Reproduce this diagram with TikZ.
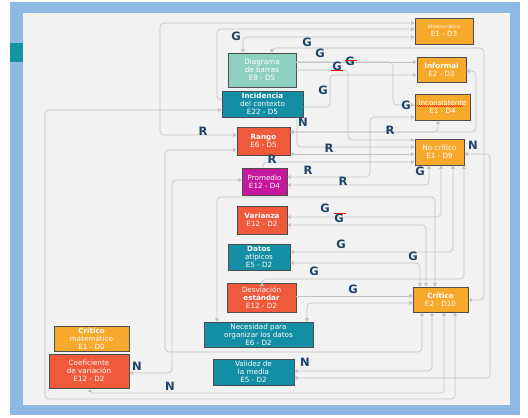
\documentclass[tikz,border=0pt]{standalone}
\usepackage{fontspec}
\setmainfont{DejaVu Sans}
\usepackage{tikz}
\usetikzlibrary{arrows.meta,decorations.pathmorphing}
\definecolor{frameblue}{HTML}{8DB9E3}
\definecolor{panelgray}{HTML}{F2F2F2}
\definecolor{tabteal}{HTML}{1593A6}
\definecolor{lgray}{HTML}{C3C3C3}
\definecolor{boxline}{HTML}{4D4D4D}
\definecolor{orangefill}{HTML}{F7A92B}
\definecolor{redfill}{HTML}{EF5A3B}
\definecolor{tealfill}{HTML}{148EA4}
\definecolor{mintfill}{HTML}{8FD1C1}
\definecolor{magfill}{HTML}{C5189D}
\definecolor{labelnavy}{HTML}{1F4368}

\begin{document}
\begin{tikzpicture}[x=1pt,y=-1pt,>={Triangle[length=3.5pt,width=4pt]},
  box/.style={draw=boxline,line width=0.8pt,text=white,align=center,inner sep=1pt,
    font=\fontsize{7.2}{7.9}\selectfont},
  obox/.style={box,fill=orangefill},
  rbox/.style={box,fill=redfill},
  tbox/.style={box,fill=tealfill},
  mbox/.style={box,fill=mintfill},
  pbox/.style={box,fill=magfill},
  conn/.style={draw=lgray,line width=0.6pt,rounded corners=4pt},
  rel/.style={text=labelnavy,font=\fontsize{11.5}{11.5}\bfseries\selectfont,inner sep=0pt},
  typo/.style={draw=red,line width=0.5pt}]
  \useasboundingbox (0,0) rectangle (528,418);
  % frame
  \fill[frameblue] (10,2) rectangle (520,415);
  \fill[panelgray] (23,13) rectangle (510,405);
  \fill[tabteal] (10,43) rectangle (23,62);

  % right column
  \node[obox,minimum width=58pt,minimum height=26pt] (idio) at (444,31)
    {{\fontsize{4.8}{6.5}\selectfont Idiosincrático}\\E1 - D3};
  \node[obox,minimum width=49pt,minimum height=25pt] (informal) at (441.5,69.5)
    {\textbf{Informal}\\E2 - D3};
  \node[obox,minimum width=55pt,minimum height=26pt] (incons) at (442.5,107)
    {Inconsistente\\E1 - D4};
  \node[obox,minimum width=49pt,minimum height=26pt] (nocrit) at (439.5,152)
    {No crítico\\E1 - D9};
  \node[obox,minimum width=55pt,minimum height=25pt] (crit) at (440.5,299.5)
    {\textbf{Crítico}\\E2 - D10};
  % middle column
  \node[mbox,minimum width=68pt,minimum height=34pt] (diag) at (262,70)
    {Diagrama\\de barras\\E8 - D5};
  \node[tbox,minimum width=81pt,minimum height=26pt] (incid) at (262.5,104)
    {\textbf{Incidencia}\\del contexto\\E22 - D5};
  \node[rbox,minimum width=53pt,minimum height=28pt] (rango) at (263.5,141)
    {\textbf{Rango}\\E6 - D5};
  \node[pbox,minimum width=45pt,minimum height=27pt] (promedio) at (264.5,181.5)
    {Promedio\\E12 - D4};
  \node[rbox,minimum width=50pt,minimum height=28pt] (varianza) at (262,220)
    {\textbf{Varianza}\\E12 - D2};
  \node[tbox,minimum width=62pt,minimum height=26pt] (datos) at (259,257)
    {\textbf{Datos}\\atípicos\\E5 - D2};
  \node[rbox,minimum width=69pt,minimum height=29pt] (desv) at (261.5,297.5)
    {Desviación\\\textbf{estándar}\\E12 - D2};
  \node[tbox,minimum width=109pt,minimum height=25pt] (neces) at (258.5,334.5)
    {Necesidad para\\organizar los datos\\E6 - D2};
  \node[tbox,minimum width=81pt,minimum height=26pt] (validez) at (253.5,372)
    {Validez de\\la media\\E5 - D2};
  % left column
  \node[obox,minimum width=75pt,minimum height=25pt] (critmat) at (91.5,338.5)
    {\textbf{Crítico}\\matemático\\E1 - D0};
  \node[rbox,minimum width=80pt,minimum height=34pt] (coef) at (89,371)
    {Coeficiente\\de variación\\E12 - D2};

  % connectors, top part
  \draw[conn,<->] (rango.west |- 0,135) -- (160,135) -- (160,23) -- (idio.west |- 0,23);
  \draw[conn,->] (incid.west |- 0,100) -- (217,100) -- (217,29) -- (idio.west |- 0,29);
  \draw[conn,<->] (243,0 |- diag.north) -- (243,37) -- (idio.west |- 0,37);
  \draw[conn,<->] (272,0 |- diag.north) -- (272,48) -- (484,48) -- (484,300) -- (crit.east |- 0,300);
  \draw[conn,->] (diag.east |- 0,62) -- (informal.west |- 0,62);
  \draw[conn,->] (diag.east |- 0,62) -- (393,62) -- (393,105) -- (incons.west |- 0,105);
  \draw[conn,->] (diag.east |- 0,70) -- (348,70) -- (348,140) -- (nocrit.west |- 0,140);
  \draw[conn,->] (incid.east |- 0,107) -- (330,107) -- (330,75) -- (informal.west |- 0,75);
  \draw[conn,<->] (rango.east |- 0,132) -- (476,132) -- (476,71) -- (informal.east |- 0,71);
  \draw[conn,->] (rango.east |- 0,132) -- (438,132) -- (438,0 |- incons.south);
  \draw[conn,->] (297,0 |- incid.south) -- (297,147) -- (nocrit.west |- 0,147);
  \draw[conn,<->] (rango.east |- 0,154) -- (nocrit.west |- 0,154);
  \draw[conn,->] (263,0 |- promedio.north) -- (263,162) -- (nocrit.west |- 0,162);
  \draw[conn,<->] (promedio.east |- 0,177) -- (370,177) -- (370,117) -- (incons.west |- 0,117);
  % connectors, between the two critical boxes
  \draw[conn,<->] (promedio.east |- 0,185) -- (429,185) -- (429,0 |- nocrit.south);
  \draw[conn,<->] (217,0 |- neces.north) -- (217,197) -- (435,197) -- (435,0 |- crit.north);
  \draw[conn,<->] (varianza.east |- 0,217) -- (441,217) -- (441,0 |- nocrit.south);
  \draw[conn,<->] (varianza.east |- 0,225) -- (426,225) -- (426,0 |- crit.north);
  \draw[conn,<->] (datos.east |- 0,252) -- (453,252) -- (453,0 |- nocrit.south);
  \draw[conn,<->] (datos.east |- 0,263) -- (420,263) -- (420,0 |- crit.north);
  \draw[conn,<->] (262,0 |- desv.north) -- (262,279) -- (464,279) -- (464,0 |- nocrit.south);
  \draw[conn,->] (desv.east |- 0,296) -- (crit.west |- 0,296);
  \draw[conn,<->] (307,0 |- neces.north) -- (307,303) -- (crit.west |- 0,303);
  % connectors, bottom part
  \draw[conn,<->] (422,0 |- crit.south) -- (422,352) -- (165,352) -- (165,150) -- (rango.west |- 0,150);
  \draw[conn,<->] (432,0 |- crit.south) -- (432,371) -- (validez.east |- 0,371);
  \draw[conn,<->,rounded corners=2pt] (444,0 |- crit.south) -- (444,393) -- (90,393) -- (90,0 |- coef.south);
  \draw[conn,<->] (455,0 |- crit.south) -- (455,399) -- (45,399) -- (45,110) -- (incid.west |- 0,110);
  \draw[conn,<->] (nocrit.east |- 0,154) -- (490,154) -- (490,378) -- (validez.east |- 0,378);
  \draw[conn,<->] (promedio.west |- 0,180) -- (172,180) -- (172,373) -- (coef.east |- 0,373);

  % relation letters
  \node[rel] (g1) at (236,36) {G};
  \node[rel] (g2) at (307,42) {G};
  \node[rel] (g3) at (320,53) {G};
  \node[rel] (g4) at (337,66) {G};
  \node[rel] (g5) at (350,61) {G};
  \node[rel] (g6) at (323,90) {G};
  \node[rel] (g7) at (406,105) {G};
  \node[rel] (n1) at (303,122) {N};
  \node[rel] (r1) at (203,131) {R};
  \node[rel] (r2) at (390,130) {R};
  \node[rel] (r3) at (329,148) {R};
  \node[rel] (n2) at (473,145) {N};
  \node[rel] (r4) at (272,159) {R};
  \node[rel] (r5) at (308,170) {R};
  \node[rel] (r6) at (343,181) {R};
  \node[rel] (g8) at (420,171) {G};
  \node[rel] (g9) at (325,208) {G};
  \node[rel] (g10) at (339,218) {G};
  \node[rel] (g11) at (341,244) {G};
  \node[rel] (g12) at (413,256) {G};
  \node[rel] (g13) at (314,271) {G};
  \node[rel] (g14) at (353,289) {G};
  \node[rel] (n3) at (137,366) {N};
  \node[rel] (n4) at (305,362) {N};
  \node[rel] (n5) at (170,386) {N};

  % spell-check marks
  \draw[typo,decorate,decoration={snake,amplitude=0.5pt,segment length=2pt}]
    (417,106) -- (463,106);
  \draw[typo] (331,70) -- (343,70);
  \draw[typo] (345,60) -- (357,60);
  \draw[typo] (334,213) -- (346,213);
\end{tikzpicture}
\end{document}
